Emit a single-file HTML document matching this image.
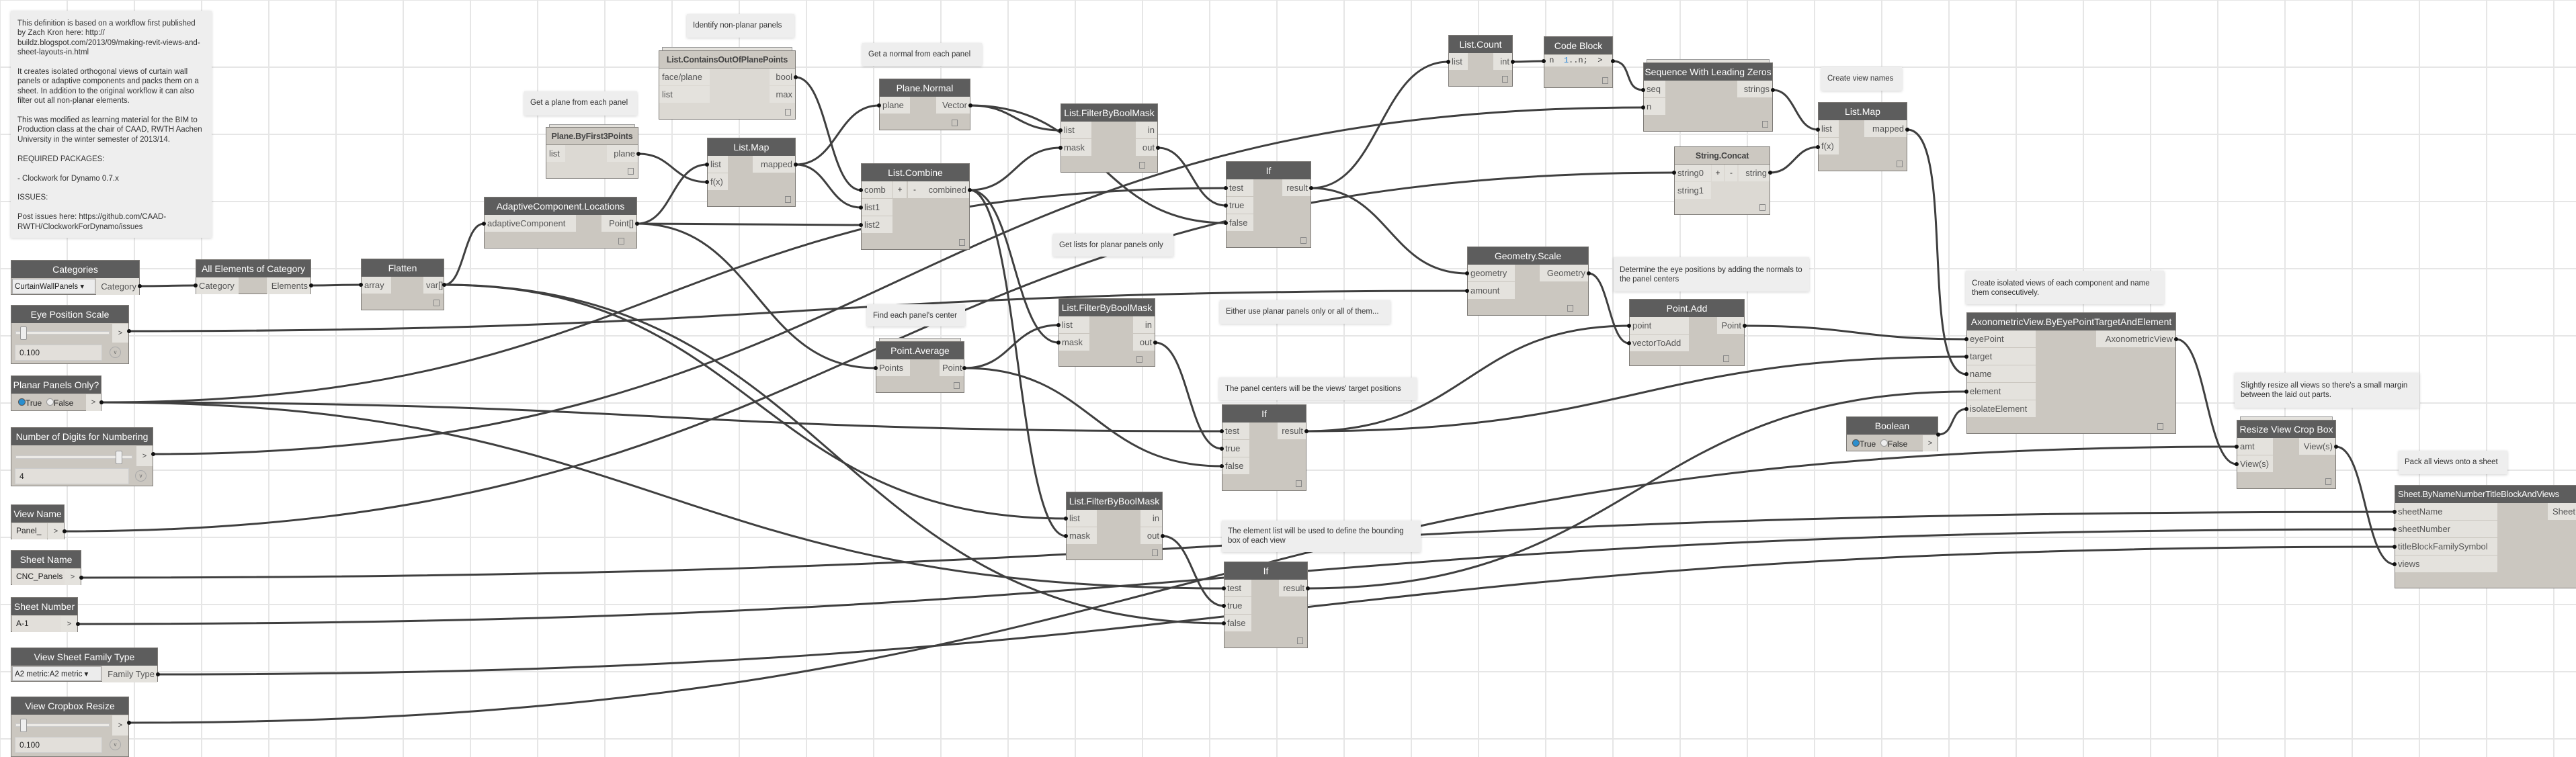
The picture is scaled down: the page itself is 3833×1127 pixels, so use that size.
<!DOCTYPE html>
<html><head><meta charset="utf-8"><style>
body{margin:0;width:3833px;height:1122px;overflow:hidden;position:relative;background:#fff;
background-image:linear-gradient(#e6e6e6 2px,transparent 2px),linear-gradient(90deg,#e6e6e6 2px,transparent 2px);
background-size:100px 100px;background-position:-1px -1px;font-family:"Liberation Sans",sans-serif}
svg{position:absolute;left:0;top:0}
.n{position:absolute;background:#cbc7c0;border:1px solid #7d7a76;box-sizing:border-box}
.lt{background:#dcd9d3}
.h{height:26px;background:#5d5d5d;color:#fff;font-size:14px;line-height:26px;text-align:center;white-space:nowrap;overflow:hidden}
.hl{background:#ccc8c1;color:#444;border-bottom:1px solid #8e8b86;font-weight:bold;height:25px;font-size:12.5px;letter-spacing:-0.2px}
.c{position:absolute;top:26px}
.l{left:0}.r{right:0;text-align:right}
.p{height:25px;line-height:25px;background:#e4e2dd;font-size:13px;color:#555;padding:0 4px;margin-bottom:1px;white-space:nowrap;box-sizing:border-box}
.ic{position:absolute;right:6px;bottom:5px;width:7px;height:8px;border:1px solid #888}
.note{position:absolute;background:#eeeeee;box-shadow:0 1px 4px rgba(0,0,0,.18);font-size:11.5px;color:#333;padding:10px 9px;box-sizing:border-box;line-height:14.4px}
.stk{position:absolute;height:5px;border:1px solid #999;border-bottom:none;background:#e4e2dd;box-sizing:border-box}
.btn{position:absolute;top:26px;height:25px;width:20px;background:#e4e2dd;font-size:12px;line-height:25px;text-align:center;color:#333}
.sl{position:absolute;height:3px;background:#eceae6;border:1px solid #ccc}
.th{position:absolute;width:8px;height:18px;background:#eee;border:1px solid #999;border-radius:2px}
.val{position:absolute;background:#e2dfda;border:1px solid #ccc;font-size:12px;line-height:22px;padding-left:6px;box-sizing:border-box;color:#222}
.gt{position:absolute;background:#e4e2dd;font-size:11px;color:#444;text-align:center}
.dd{position:absolute;background:#ececec;border:1px solid #aaa;font-size:11.5px;line-height:22px;padding-left:3px;box-sizing:border-box;color:#222;white-space:nowrap;overflow:hidden}
</style></head><body>
<svg width="3833" height="1122" fill="none" stroke="#3f3f3f" stroke-width="3">
<path d="M208 426C250 426 249 425 291 425"/>
<path d="M463 425C500 425 500 424 537 424"/>
<path d="M661 424C691 424 690 333 720 333"/>
<path d="M661 424C1123 424 1124 772 1586 772"/>
<path d="M661 424C1241 424 1241 928 1821 928"/>
<path d="M948 333C1000 333 1000 245 1052 245"/>
<path d="M950 229C1001 229 1001 271 1052 271"/>
<path d="M948 333C1114 333 1115 335 1281 335"/>
<path d="M948 333C1125 333 1126 548 1303 548"/>
<path d="M1184 115C1232 115 1233 283 1281 283"/>
<path d="M1184 245C1246 245 1246 157 1308 157"/>
<path d="M1184 245C1232 245 1233 309 1281 309"/>
<path d="M1444 157C1511 157 1511 194 1578 194"/>
<path d="M1444 157C1634 157 1634 332 1824 332"/>
<path d="M1443 283C1510 283 1511 220 1578 220"/>
<path d="M1443 283C1509 283 1509 510 1575 510"/>
<path d="M1443 283C1515 283 1514 798 1586 798"/>
<path d="M1723 220C1773 220 1774 306 1824 306"/>
<path d="M151 599C987 599 988 280 1824 280"/>
<path d="M151 599C984 599 985 642 1818 642"/>
<path d="M151 599C986 599 986 876 1821 876"/>
<path d="M1435 548C1505 548 1505 484 1575 484"/>
<path d="M1435 548C1626 548 1627 694 1818 694"/>
<path d="M1719 510C1769 510 1768 668 1818 668"/>
<path d="M1730 798C1775 798 1776 902 1821 902"/>
<path d="M1951 280C2053 280 2053 92 2155 92"/>
<path d="M1951 280C2067 280 2067 407 2183 407"/>
<path d="M2251 92C2274 92 2274 91 2297 91"/>
<path d="M2400 91C2430 91 2415 134 2445 134"/>
<path d="M228 676C1336 676 1337 160 2445 160"/>
<path d="M2638 134C2672 134 2671 193 2705 193"/>
<path d="M2634 257C2669 257 2670 219 2705 219"/>
<path d="M96 791C1293 791 1294 257 2491 257"/>
<path d="M2838 193C2910 193 2856 557 2926 557"/>
<path d="M192 493C1187 493 1188 433 2183 433"/>
<path d="M2364 407C2394 407 2394 511 2424 511"/>
<path d="M1944 642C2184 642 2184 485 2424 485"/>
<path d="M1944 642C2435 642 2435 531 2926 531"/>
<path d="M2596 485C2761 485 2761 505 2926 505"/>
<path d="M1946 876C2436 876 2436 583 2926 583"/>
<path d="M2884 647C2909 647 2901 609 2926 609"/>
<path d="M3238 505C3283 505 3283 691 3328 691"/>
<path d="M192 1076C1760 1076 1760 665 3328 665"/>
<path d="M121 860C1842 860 1842 762 3563 762"/>
<path d="M116 929C1840 929 1840 788 3563 788"/>
<path d="M235 1004C1899 1004 1899 814 3563 814"/>
<path d="M3476 665C3520 665 3519 840 3563 840"/>
</svg>

<!-- notes -->
<div class="note" style="left:16px;top:16px;width:299px;height:338px;padding:12px 10px">This definition is based on a workflow first published by Zach Kron here: http://<br>buildz.blogspot.com/2013/09/making-revit-views-and-sheet-layouts-in.html<br><br>It creates isolated orthogonal views of curtain wall panels or adaptive components and packs them on a sheet. In addition to the original workflow it can also filter out all non-planar elements.<br><br>This was modified as learning material for the BIM to Production class at the chair of CAAD, RWTH Aachen University in the winter semester of 2013/14.<br><br>REQUIRED PACKAGES:<br><br>- Clockwork for Dynamo 0.7.x<br><br>ISSUES:<br><br>Post issues here: https://github.com/CAAD-RWTH/ClockworkForDynamo/issues</div>
<div class="note" style="left:780px;top:136px;width:168px;height:36px">Get a plane from each panel</div>
<div class="note" style="left:1022px;top:21px;width:160px;height:35px">Identify non-planar panels</div>
<div class="note" style="left:1283px;top:64px;width:178px;height:34px">Get a normal from each panel</div>
<div class="note" style="left:1567px;top:348px;width:179px;height:34px">Get lists for planar panels only</div>
<div class="note" style="left:1290px;top:453px;width:146px;height:33px">Find each panel's center</div>
<div class="note" style="left:1815px;top:447px;width:254px;height:35px">Either use planar panels only or all of them...</div>
<div class="note" style="left:1814px;top:562px;width:294px;height:34px">The panel centers will be the views' target positions</div>
<div class="note" style="left:1818px;top:775px;width:296px;height:47px;padding-top:9px">The element list will be used to define the bounding box of each view</div>
<div class="note" style="left:2401px;top:383px;width:291px;height:51px;padding-top:12px">Determine the eye positions by adding the normals to the panel centers</div>
<div class="note" style="left:2710px;top:100px;width:120px;height:35px">Create view names</div>
<div class="note" style="left:2925px;top:403px;width:295px;height:50px;padding-top:12px">Create isolated views of each component and name them consecutively.</div>
<div class="note" style="left:3325px;top:555px;width:275px;height:52px;padding-top:12px">Slightly resize all views so there's a small margin between the laid out parts.</div>
<div class="note" style="left:3569px;top:671px;width:162px;height:35px">Pack all views onto a sheet</div>

<!-- input nodes -->
<div class="n" style="left:16px;top:387px;width:192px;height:52px"><div class="h">Categories</div>
<div class="dd" style="left:1px;top:27px;width:124px;height:23px">CurtainWallPanels ▾</div><div class="c r" style="width:64px"><div class="p">Category</div></div></div>
<div class="n" style="left:16px;top:454px;width:176px;height:88px"><div class="h">Eye Position Scale</div>
<div class="sl" style="left:6px;top:38px;width:138px"></div><div class="th" style="left:13px;top:31px"></div><div class="gt" style="right:0;top:27px;width:24px;height:28px;line-height:28px">&gt;</div>
<div class="val" style="left:5px;top:58px;width:130px;height:24px">0.100</div><div style="position:absolute;left:146px;top:61px;width:15px;height:15px;border:1px solid #aaa;border-radius:50%;font-size:8px;text-align:center;line-height:15px;color:#666">v</div></div>
<div class="n" style="left:16px;top:559px;width:135px;height:53px"><div class="h">Planar Panels Only?</div>
<div style="position:absolute;left:10px;top:33px;font-size:12px;color:#222"><span style="display:inline-block;width:9px;height:9px;border-radius:50%;background:#2a8fcf;border:1px solid #555"></span>True &nbsp;<span style="display:inline-block;width:9px;height:9px;border-radius:50%;background:#eee;border:1px solid #999"></span>False</div><div class="gt" style="right:0;top:27px;width:22px;height:25px;line-height:25px">&gt;</div></div>
<div class="n" style="left:16px;top:636px;width:212px;height:88px"><div class="h">Number of Digits for Numbering</div>
<div class="sl" style="left:6px;top:41px;width:172px"></div><div class="th" style="left:155px;top:34px"></div><div class="gt" style="right:0;top:27px;width:24px;height:30px;line-height:30px">&gt;</div>
<div class="val" style="left:5px;top:60px;width:170px;height:24px">4</div><div style="position:absolute;left:184px;top:63px;width:15px;height:15px;border:1px solid #aaa;border-radius:50%;font-size:8px;text-align:center;line-height:15px;color:#666">v</div></div>
<div class="n" style="left:16px;top:751px;width:80px;height:52px"><div class="h">View Name</div><div class="val" style="left:1px;top:27px;width:52px;height:24px;border:none">Panel_</div><div class="gt" style="right:0;top:27px;width:24px;height:24px;line-height:24px">&gt;</div></div>
<div class="n" style="left:16px;top:819px;width:105px;height:52px"><div class="h">Sheet Name</div><div class="val" style="left:1px;top:27px;width:78px;height:24px;border:none">CNC_Panels</div><div class="gt" style="right:0;top:27px;width:24px;height:24px;line-height:24px">&gt;</div></div>
<div class="n" style="left:16px;top:889px;width:100px;height:52px"><div class="h">Sheet Number</div><div class="val" style="left:1px;top:27px;width:73px;height:24px;border:none">A-1</div><div class="gt" style="right:0;top:27px;width:24px;height:24px;line-height:24px">&gt;</div></div>
<div class="n" style="left:16px;top:964px;width:219px;height:51px"><div class="h">View Sheet Family Type</div>
<div class="dd" style="left:1px;top:27px;width:133px;height:22px">A2 metric:A2 metric ▾</div><div class="c r" style="width:82px"><div class="p">Family Type</div></div></div>
<div class="n" style="left:16px;top:1037px;width:176px;height:90px"><div class="h">View Cropbox Resize</div>
<div class="sl" style="left:6px;top:39px;width:138px"></div><div class="th" style="left:13px;top:32px"></div><div class="gt" style="right:0;top:27px;width:24px;height:30px;line-height:30px">&gt;</div>
<div class="val" style="left:5px;top:59px;width:130px;height:24px">0.100</div><div style="position:absolute;left:146px;top:62px;width:15px;height:15px;border:1px solid #aaa;border-radius:50%;font-size:8px;text-align:center;line-height:15px;color:#666">v</div></div>

<!-- function nodes -->
<div class="n" style="left:291px;top:386px;width:172px;height:52px"><div class="h">All Elements of Category</div><div class="c l" style="width:63px"><div class="p">Category</div></div><div class="c r" style="width:65px"><div class="p">Elements</div></div></div>
<div class="n" style="left:537px;top:385px;width:124px;height:77px"><div class="h">Flatten</div><div class="c l" style="width:44px"><div class="p">array</div></div><div class="c r" style="width:30px"><div class="p">var[]</div></div><div class="ic"></div></div>
<div class="n" style="left:720px;top:293px;width:228px;height:77px"><div class="h">AdaptiveComponent.Locations</div><div class="c l" style="width:136px"><div class="p">adaptiveComponent</div></div><div class="c r" style="width:52px"><div class="p">Point[]</div></div><div class="ic" style="right:18px"></div></div>
<div class="stk" style="left:817px;top:185px;width:128px"></div>
<div class="n lt" style="left:812px;top:189px;width:138px;height:77px"><div class="h hl">Plane.ByFirst3Points</div><div class="c l" style="width:28px"><div class="p">list</div></div><div class="c r" style="width:46px"><div class="p">plane</div></div><div class="ic"></div></div>
<div class="stk" style="left:985px;top:70px;width:194px"></div>
<div class="n lt" style="left:980px;top:75px;width:204px;height:103px"><div class="h hl">List.ContainsOutOfPlanePoints</div><div class="c l" style="width:75px"><div class="p">face/plane</div><div class="p">list</div></div><div class="c r" style="width:38px"><div class="p">bool</div><div class="p">max</div></div><div class="ic"></div></div>
<div class="n" style="left:1052px;top:205px;width:132px;height:103px"><div class="h">List.Map</div><div class="c l" style="width:30px"><div class="p">list</div><div class="p">f(x)</div></div><div class="c r" style="width:63px"><div class="p">mapped</div></div><div class="ic"></div></div>
<div class="n" style="left:1308px;top:117px;width:136px;height:77px"><div class="h">Plane.Normal</div><div class="c l" style="width:45px"><div class="p">plane</div></div><div class="c r" style="width:50px"><div class="p">Vector</div></div><div class="ic" style="right:18px"></div></div>
<div class="n" style="left:1281px;top:243px;width:162px;height:129px"><div class="h">List.Combine</div><div class="c l" style="width:46px"><div class="p">comb</div><div class="p">list1</div><div class="p">list2</div></div><div class="btn" style="left:47px">+</div><div class="btn" style="left:69px">-</div><div class="c r" style="width:72px"><div class="p">combined</div></div><div class="ic"></div></div>
<div class="n" style="left:1578px;top:154px;width:145px;height:103px"><div class="h">List.FilterByBoolMask</div><div class="c l" style="width:45px"><div class="p">list</div><div class="p">mask</div></div><div class="c r" style="width:32px"><div class="p">in</div><div class="p">out</div></div><div class="ic" style="right:18px"></div></div>
<div class="n" style="left:1824px;top:240px;width:127px;height:129px"><div class="h">If</div><div class="c l" style="width:40px"><div class="p">test</div><div class="p">true</div><div class="p">false</div></div><div class="c r" style="width:42px"><div class="p">result</div></div><div class="ic"></div></div>
<div class="n" style="left:1575px;top:444px;width:144px;height:102px"><div class="h">List.FilterByBoolMask</div><div class="c l" style="width:45px"><div class="p">list</div><div class="p">mask</div></div><div class="c r" style="width:32px"><div class="p">in</div><div class="p">out</div></div><div class="ic" style="right:18px"></div></div>
<div class="stk" style="left:1308px;top:503px;width:122px"></div>
<div class="n" style="left:1303px;top:508px;width:132px;height:77px"><div class="h">Point.Average</div><div class="c l" style="width:50px"><div class="p">Points</div></div><div class="c r" style="width:36px"><div class="p">Point</div></div><div class="ic"></div></div>
<div class="n" style="left:1818px;top:602px;width:126px;height:129px"><div class="h">If</div><div class="c l" style="width:40px"><div class="p">test</div><div class="p">true</div><div class="p">false</div></div><div class="c r" style="width:42px"><div class="p">result</div></div><div class="ic"></div></div>
<div class="n" style="left:1586px;top:732px;width:144px;height:102px"><div class="h">List.FilterByBoolMask</div><div class="c l" style="width:45px"><div class="p">list</div><div class="p">mask</div></div><div class="c r" style="width:32px"><div class="p">in</div><div class="p">out</div></div><div class="ic"></div></div>
<div class="n" style="left:1821px;top:836px;width:125px;height:129px"><div class="h">If</div><div class="c l" style="width:40px"><div class="p">test</div><div class="p">true</div><div class="p">false</div></div><div class="c r" style="width:42px"><div class="p">result</div></div><div class="ic"></div></div>
<div class="n" style="left:2155px;top:52px;width:96px;height:77px"><div class="h">List.Count</div><div class="c l" style="width:28px"><div class="p">list</div></div><div class="c r" style="width:28px"><div class="p">int</div></div><div class="ic"></div></div>
<div class="n" style="left:2297px;top:54px;width:103px;height:77px"><div class="h">Code Block</div>
<div style="position:absolute;left:0;top:27px;width:101px;height:17px;background:#e4e2dd;font:12px 'Liberation Mono',monospace;line-height:17px;color:#333;white-space:nowrap">&nbsp;n &nbsp;<span style="color:#1b7fd6">1</span>..n; &nbsp;&gt;</div><div class="ic"></div></div>
<div class="stk" style="left:2450px;top:88px;width:183px"></div>
<div class="n" style="left:2445px;top:93px;width:193px;height:103px"><div class="h">Sequence With Leading Zeros</div><div class="c l" style="width:32px"><div class="p">seq</div><div class="p">n</div></div><div class="c r" style="width:52px"><div class="p">strings</div></div><div class="ic"></div></div>
<div class="n" style="left:2705px;top:152px;width:133px;height:103px"><div class="h">List.Map</div><div class="c l" style="width:30px"><div class="p">list</div><div class="p">f(x)</div></div><div class="c r" style="width:63px"><div class="p">mapped</div></div><div class="ic"></div></div>
<div class="n lt" style="left:2491px;top:218px;width:143px;height:102px"><div class="h hl">String.Concat</div><div class="c l" style="width:54px"><div class="p">string0</div><div class="p">string1</div></div><div class="btn" style="left:55px;width:18px">+</div><div class="btn" style="left:75px;width:18px">-</div><div class="c r" style="width:46px"><div class="p">string</div></div><div class="ic"></div></div>
<div class="n" style="left:2183px;top:367px;width:181px;height:103px"><div class="h">Geometry.Scale</div><div class="c l" style="width:70px"><div class="p">geometry</div><div class="p">amount</div></div><div class="c r" style="width:72px"><div class="p">Geometry</div></div><div class="ic" style="right:22px"></div></div>
<div class="n" style="left:2424px;top:445px;width:172px;height:100px"><div class="h">Point.Add</div><div class="c l" style="width:88px"><div class="p">point</div><div class="p">vectorToAdd</div></div><div class="c r" style="width:40px"><div class="p">Point</div></div><div class="ic" style="right:22px"></div></div>
<div class="n" style="left:2747px;top:620px;width:137px;height:52px"><div class="h">Boolean</div>
<div style="position:absolute;left:8px;top:33px;font-size:12px;color:#222"><span style="display:inline-block;width:9px;height:9px;border-radius:50%;background:#2a8fcf;border:1px solid #555"></span>True &nbsp;<span style="display:inline-block;width:9px;height:9px;border-radius:50%;background:#eee;border:1px solid #999"></span>False</div><div class="gt" style="right:0;top:27px;width:22px;height:24px;line-height:24px">&gt;</div></div>
<div class="n" style="left:2926px;top:465px;width:312px;height:181px"><div class="h">AxonometricView.ByEyePointTargetAndElement</div><div class="c l" style="width:102px"><div class="p">eyePoint</div><div class="p">target</div><div class="p">name</div><div class="p">element</div><div class="p">isolateElement</div></div><div class="c r" style="width:118px"><div class="p">AxonometricView</div></div><div class="ic" style="right:18px"></div></div>
<div class="stk" style="left:3333px;top:620px;width:138px"></div>
<div class="n" style="left:3328px;top:625px;width:148px;height:103px"><div class="h">Resize View Crop Box</div><div class="c l" style="width:53px"><div class="p">amt</div><div class="p">View(s)</div></div><div class="c r" style="width:54px"><div class="p">View(s)</div></div><div class="ic"></div></div>
<div class="n" style="left:3563px;top:722px;width:278px;height:154px"><div class="h" style="text-align:left;padding-left:4px;font-size:13px;letter-spacing:-0.2px">Sheet.ByNameNumberTitleBlockAndViews</div><div class="c l" style="width:152px"><div class="p">sheetName</div><div class="p">sheetNumber</div><div class="p">titleBlockFamilySymbol</div><div class="p">views</div></div><div class="c r" style="width:45px;right:4px"><div class="p">Sheet</div></div></div>

<svg width="3833" height="1122" fill="#111" stroke="none" style="pointer-events:none">
<circle cx="208" cy="426" r="3"/><circle cx="291" cy="425" r="3"/><circle cx="463" cy="425" r="3"/><circle cx="537" cy="424" r="3"/>
<circle cx="661" cy="424" r="3"/><circle cx="720" cy="333" r="3"/><circle cx="948" cy="333" r="3"/><circle cx="950" cy="229" r="3"/>
<circle cx="1052" cy="245" r="3"/><circle cx="1052" cy="271" r="3"/><circle cx="1184" cy="115" r="3"/><circle cx="1184" cy="245" r="3"/>
<circle cx="1281" cy="283" r="3"/><circle cx="1281" cy="309" r="3"/><circle cx="1281" cy="335" r="3"/><circle cx="1308" cy="157" r="3"/>
<circle cx="1444" cy="157" r="3"/><circle cx="1443" cy="283" r="3"/><circle cx="1578" cy="194" r="3"/><circle cx="1578" cy="220" r="3"/>
<circle cx="1723" cy="220" r="3"/><circle cx="1824" cy="280" r="3"/><circle cx="1824" cy="306" r="3"/><circle cx="1824" cy="332" r="3"/>
<circle cx="1951" cy="280" r="3"/><circle cx="1575" cy="484" r="3"/><circle cx="1575" cy="510" r="3"/><circle cx="1719" cy="510" r="3"/>
<circle cx="1303" cy="548" r="3"/><circle cx="1435" cy="548" r="3"/><circle cx="1818" cy="642" r="3"/><circle cx="1818" cy="668" r="3"/>
<circle cx="1818" cy="694" r="3"/><circle cx="1944" cy="642" r="3"/><circle cx="1586" cy="772" r="3"/><circle cx="1586" cy="798" r="3"/>
<circle cx="1730" cy="798" r="3"/><circle cx="1821" cy="876" r="3"/><circle cx="1821" cy="902" r="3"/><circle cx="1821" cy="928" r="3"/>
<circle cx="1946" cy="876" r="3"/><circle cx="2155" cy="92" r="3"/><circle cx="2251" cy="92" r="3"/><circle cx="2297" cy="91" r="3"/>
<circle cx="2400" cy="91" r="3"/><circle cx="2445" cy="134" r="3"/><circle cx="2445" cy="160" r="3"/><circle cx="2638" cy="134" r="3"/>
<circle cx="2705" cy="193" r="3"/><circle cx="2705" cy="219" r="3"/><circle cx="2838" cy="193" r="3"/><circle cx="2491" cy="257" r="3"/>
<circle cx="2634" cy="257" r="3"/><circle cx="2183" cy="407" r="3"/><circle cx="2183" cy="433" r="3"/><circle cx="2364" cy="407" r="3"/>
<circle cx="2424" cy="485" r="3"/><circle cx="2424" cy="511" r="3"/><circle cx="2596" cy="485" r="3"/><circle cx="2884" cy="647" r="3"/>
<circle cx="2926" cy="505" r="3"/><circle cx="2926" cy="531" r="3"/><circle cx="2926" cy="557" r="3"/><circle cx="2926" cy="583" r="3"/>
<circle cx="2926" cy="609" r="3"/><circle cx="3238" cy="505" r="3"/><circle cx="3328" cy="665" r="3"/><circle cx="3328" cy="691" r="3"/>
<circle cx="3476" cy="665" r="3"/><circle cx="3563" cy="762" r="3"/><circle cx="3563" cy="788" r="3"/><circle cx="3563" cy="814" r="3"/>
<circle cx="3563" cy="840" r="3"/><circle cx="192" cy="493" r="3"/><circle cx="151" cy="599" r="3"/><circle cx="228" cy="676" r="3"/>
<circle cx="96" cy="791" r="3"/><circle cx="121" cy="860" r="3"/><circle cx="116" cy="929" r="3"/><circle cx="235" cy="1004" r="3"/>
<circle cx="192" cy="1076" r="3"/>
</svg>
</body></html>
